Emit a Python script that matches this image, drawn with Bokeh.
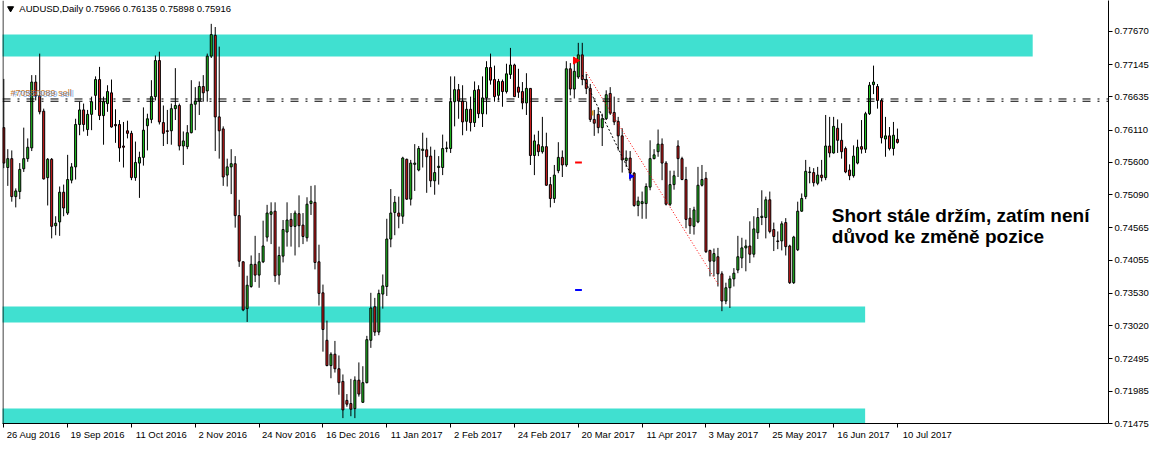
from bokeh.plotting import figure
from bokeh.models import Range1d, FixedTicker, Label, Span, ColumnDataSource, PrintfTickFormatter, CustomJSTickFormatter
from bokeh.embed import file_html
from bokeh.resources import INLINE
from bokeh.core.properties import value

# ---------------- data (AUDUSD daily) ----------------
opens = [0.7615,0.7552,0.7566,0.7506,0.7514,0.7550,0.7566,0.7583,0.7687,0.7665,
         0.7641,0.7536,0.7565,0.7460,0.7466,0.7513,0.7480,0.7532,0.7553,0.7620,
         0.7643,0.7612,0.7636,0.7666,0.7691,0.7634,0.7653,0.7670,0.7620,0.7620,
         0.7586,0.7610,0.7606,0.7536,0.7559,0.7568,0.7618,0.7628,0.7664,0.7721,
         0.7623,0.7610,0.7610,0.7645,0.7650,0.7586,0.7585,0.7607,0.7652,0.7657,
         0.7680,0.7673,0.7728,0.7761,0.7632,0.7613,0.7540,0.7553,0.7558,0.7476,
         0.7403,0.7329,0.7364,0.7399,0.7382,0.7403,0.7442,0.7478,0.7483,0.7382,
         0.7412,0.7450,0.7470,0.7459,0.7479,0.7461,0.7441,0.7495,0.7497,0.7403,
         0.7354,0.7279,0.7239,0.7257,0.7234,0.7214,0.7184,0.7179,0.7171,0.7216,
         0.7181,0.7212,0.7279,0.7332,0.7292,0.7352,0.7364,0.7439,0.7481,0.7480,
         0.7475,0.7565,0.7502,0.7557,0.7548,0.7579,0.7580,0.7570,0.7531,0.7552,
         0.7552,0.7582,0.7582,0.7656,0.7675,0.7657,0.7625,0.7644,0.7623,0.7675,
         0.7637,0.7662,0.7710,0.7691,0.7666,0.7688,0.7672,0.7699,0.7714,0.7679,
         0.7672,0.7654,0.7677,0.7571,0.7588,0.7577,0.7585,0.7525,0.7503,0.7547,
         0.7568,0.7556,0.7708,0.7676,0.7695,0.7730,0.7691,0.7677,0.7628,0.7636,
         0.7615,0.7629,0.7669,0.7639,0.7625,0.7602,0.7563,0.7567,0.7543,0.7492,
         0.7495,0.7495,0.7521,0.7566,0.7577,0.7589,0.7559,0.7494,0.7525,0.7586,
         0.7566,0.7533,0.7472,0.7459,0.7466,0.7524,0.7535,0.7421,0.7404,0.7411,
         0.7384,0.7341,0.7362,0.7376,0.7390,0.7409,0.7425,0.7428,0.7415,0.7449,
         0.7473,0.7473,0.7501,0.7454,0.7436,0.7436,0.7465,0.7428,0.7370,0.7422,
         0.7483,0.7506,0.7544,0.7544,0.7527,0.7540,0.7536,0.7586,0.7575,0.7614,
         0.7595,0.7582,0.7548,0.7539,0.7559,0.7585,0.7581,0.7637,0.7683,0.7680,
         0.7658,0.7597,0.7602,0.7582,0.75966]
highs = [0.7692,0.7581,0.7579,0.7519,0.7559,0.7615,0.7598,0.7698,0.7698,0.7732,
         0.7645,0.7567,0.7567,0.7475,0.7522,0.7525,0.7572,0.7559,0.7629,0.7656,
         0.7653,0.7643,0.7664,0.7696,0.7711,0.7664,0.7682,0.7691,0.7644,0.7627,
         0.7624,0.7626,0.7610,0.7593,0.7577,0.7647,0.7637,0.7690,0.7729,0.7735,
         0.7650,0.7643,0.7653,0.7709,0.7653,0.7609,0.7619,0.7690,0.7679,0.7688,
         0.7698,0.7732,0.7779,0.7774,0.7743,0.7617,0.7566,0.7581,0.7570,0.7501,
         0.7404,0.7381,0.7413,0.7444,0.7417,0.7468,0.7493,0.7497,0.7497,0.7427,
         0.7469,0.7497,0.7480,0.7484,0.7508,0.7480,0.7505,0.7523,0.7524,0.7430,
         0.7367,0.7310,0.7260,0.7278,0.7255,0.7225,0.7194,0.7218,0.7222,0.7244,
         0.7238,0.7286,0.7354,0.7346,0.7359,0.7383,0.7471,0.7518,0.7507,0.7506,
         0.7569,0.7566,0.7564,0.7589,0.7586,0.7607,0.7599,0.7585,0.7580,0.7570,
         0.7604,0.7593,0.7696,0.7696,0.7684,0.7682,0.7656,0.7664,0.7688,0.7682,
         0.7696,0.7720,0.7732,0.7713,0.7692,0.7691,0.7716,0.7741,0.7716,0.7708,
         0.7687,0.7701,0.7677,0.7604,0.7610,0.7632,0.7607,0.7537,0.7556,0.7592,
         0.7579,0.7720,0.7717,0.7724,0.7749,0.7749,0.7700,0.7684,0.7643,0.7647,
         0.7637,0.7674,0.7679,0.7664,0.7632,0.7614,0.7579,0.7578,0.7545,0.7506,
         0.7514,0.7527,0.7595,0.7581,0.7612,0.7598,0.7562,0.7547,0.7547,0.7595,
         0.7569,0.7553,0.7488,0.7490,0.7553,0.7556,0.7545,0.7422,0.7424,0.7425,
         0.7388,0.7370,0.7381,0.7393,0.7444,0.7441,0.7438,0.7467,0.7475,0.7488,
         0.7516,0.7506,0.7514,0.7465,0.7451,0.7467,0.7472,0.7430,0.7444,0.7498,
         0.7511,0.7564,0.7553,0.7551,0.7553,0.7564,0.7635,0.7632,0.7632,0.7628,
         0.7622,0.7585,0.7557,0.7587,0.7596,0.7627,0.7640,0.7687,0.7713,0.7684,
         0.7661,0.7632,0.7616,0.7624,0.76135]
lows = [0.7551,0.7523,0.7498,0.7489,0.7502,0.7545,0.7561,0.7578,0.7658,0.7636,
        0.7533,0.7492,0.7440,0.7445,0.7444,0.7475,0.7477,0.7527,0.7533,0.7603,
        0.7609,0.7602,0.7611,0.7643,0.7627,0.7588,0.7640,0.7615,0.7591,0.7561,
        0.7552,0.7598,0.7532,0.7531,0.7504,0.7555,0.7579,0.7622,0.7658,0.7620,
        0.7586,0.7589,0.7588,0.7627,0.7579,0.7556,0.7581,0.7606,0.7611,0.7635,
        0.7656,0.7656,0.7725,0.7578,0.7566,0.7523,0.7522,0.7510,0.7457,0.7395,
        0.7325,0.7308,0.7362,0.7371,0.7362,0.7401,0.7435,0.7431,0.7371,0.7367,
        0.7402,0.7427,0.7427,0.7413,0.7426,0.7431,0.7435,0.7477,0.7391,0.7334,
        0.7261,0.7238,0.7219,0.7228,0.7193,0.7156,0.7174,0.7159,0.7156,0.7190,
        0.7180,0.7211,0.7267,0.7286,0.7287,0.7329,0.7349,0.7426,0.7445,0.7456,
        0.7463,0.7501,0.7492,0.7515,0.7546,0.7552,0.7512,0.7521,0.7509,0.7525,
        0.7540,0.7576,0.7575,0.7617,0.7629,0.7603,0.7610,0.7609,0.7616,0.7630,
        0.7616,0.7636,0.7683,0.7656,0.7658,0.7648,0.7669,0.7692,0.7664,0.7662,
        0.7644,0.7635,0.7556,0.7540,0.7570,0.7574,0.7523,0.7489,0.7496,0.7543,
        0.7537,0.7553,0.7666,0.7661,0.7692,0.7682,0.7668,0.7624,0.7602,0.7606,
        0.7586,0.7627,0.7635,0.7619,0.7579,0.7544,0.7553,0.7531,0.7490,0.7475,
        0.7471,0.7471,0.7516,0.7565,0.7569,0.7532,0.7492,0.7491,0.7517,0.7537,
        0.7532,0.7456,0.7447,0.7446,0.7464,0.7522,0.7417,0.7380,0.7380,0.7364,
        0.7325,0.7336,0.7330,0.7364,0.7385,0.7393,0.7388,0.7401,0.7410,0.7439,
        0.7461,0.7440,0.7448,0.7420,0.7423,0.7421,0.7413,0.7368,0.7368,0.7420,
        0.7482,0.7502,0.7527,0.7522,0.7524,0.7530,0.7532,0.7568,0.7574,0.7575,
        0.7566,0.7543,0.7532,0.7536,0.7557,0.7574,0.7575,0.7635,0.7668,0.7645,
        0.7590,0.7569,0.7579,0.7571,0.75898]
closes = [0.7559,0.7566,0.7506,0.7515,0.7549,0.7566,0.7584,0.7687,0.7665,0.7640,
          0.7534,0.7565,0.7459,0.7464,0.7513,0.7488,0.7533,0.7553,0.7620,0.7643,
          0.7620,0.7636,0.7656,0.7691,0.7634,0.7656,0.7672,0.7616,0.7618,0.7583,
          0.7584,0.7606,0.7536,0.7560,0.7568,0.7611,0.7629,0.7664,0.7721,0.7624,
          0.7606,0.7609,0.7645,0.7650,0.7586,0.7594,0.7607,0.7652,0.7657,0.7680,
          0.7670,0.7728,0.7762,0.7632,0.7610,0.7537,0.7553,0.7558,0.7476,0.7404,
          0.7327,0.7366,0.7399,0.7382,0.7403,0.7428,0.7480,0.7482,0.7381,0.7413,
          0.7454,0.7469,0.7459,0.7480,0.7460,0.7443,0.7494,0.7499,0.7402,0.7353,
          0.7296,0.7239,0.7257,0.7234,0.7212,0.7169,0.7178,0.7170,0.7216,0.7194,
          0.7212,0.7280,0.7330,0.7292,0.7353,0.7365,0.7439,0.7480,0.7497,0.7475,
          0.7567,0.7502,0.7559,0.7559,0.7582,0.7581,0.7569,0.7531,0.7544,0.7554,
          0.7582,0.7583,0.7656,0.7675,0.7657,0.7624,0.7644,0.7623,0.7674,0.7637,
          0.7662,0.7710,0.7690,0.7664,0.7688,0.7672,0.7700,0.7714,0.7664,0.7671,
          0.7654,0.7677,0.7571,0.7594,0.7577,0.7585,0.7524,0.7503,0.7540,0.7568,
          0.7556,0.7708,0.7676,0.7704,0.7730,0.7691,0.7677,0.7628,0.7622,0.7615,
          0.7629,0.7667,0.7638,0.7624,0.7602,0.7564,0.7567,0.7543,0.7492,0.7499,
          0.7498,0.7522,0.7566,0.7572,0.7589,0.7559,0.7494,0.7525,0.7539,0.7566,
          0.7533,0.7470,0.7460,0.7485,0.7524,0.7533,0.7419,0.7404,0.7416,0.7384,
          0.7341,0.7362,0.7376,0.7385,0.7411,0.7425,0.7428,0.7415,0.7455,0.7473,
          0.7475,0.7501,0.7451,0.7443,0.7435,0.7463,0.7427,0.7370,0.7442,0.7483,
          0.7503,0.7546,0.7545,0.7528,0.7540,0.7536,0.7586,0.7575,0.7617,0.7595,
          0.7577,0.7545,0.7539,0.7570,0.7584,0.7581,0.7637,0.7682,0.7687,0.7658,
          0.7599,0.7602,0.7582,0.7603,0.75916]

date_tick_bars = [0, 16, 32, 48, 64, 80, 96, 112, 128, 144, 160, 176, 192, 208, 224]
date_tick_labels = ["26 Aug 2016", "19 Sep 2016", "11 Oct 2016", "2 Nov 2016", "24 Nov 2016",
                    "16 Dec 2016", "11 Jan 2017", "2 Feb 2017", "24 Feb 2017", "20 Mar 2017",
                    "11 Apr 2017", "3 May 2017", "25 May 2017", "16 Jun 2017", "10 Jul 2017"]
price_ticks = [0.77670, 0.77145, 0.76635, 0.76110, 0.75600, 0.75090, 0.74565,
               0.74055, 0.73530, 0.73020, 0.72495, 0.71985, 0.71475]

zone_tops = [0.77623, 0.73324, 0.71712]
zone_bottoms = [0.77276, 0.73072, 0.71380]
zone_right_bars = [257.9, 215.9, 215.9]

order_levels = [0.76603, 0.76567]
trend_red_bars = [145.9, 179.1]
trend_red_prices = [0.7703, 0.7367]
trade_black_bars = [145.0, 157.5]
trade_black_prices = [0.7698, 0.7537]
sl_price = 0.7560
tp_price = 0.73583

header_text = "AUDUSD,Daily  0.75966 0.76135 0.75898 0.75916"
note_lines = ["Short stále držím, zatím není", "důvod ke změně pozice"]
note_prices = [0.74754, 0.74423]

# ---------------- figure ----------------
FONT = "Liberation Sans"
p = figure(width=1151, height=442, output_backend="svg", toolbar_location=None,
           x_range=Range1d(-0.325, 276.9), y_range=Range1d(0.71475, 0.78159),
           y_axis_location="right", min_border_left=2, min_border_top=0,
           min_border_right=40, min_border_bottom=13)
p.background_fill_color = "white"
p.border_fill_color = "white"
p.outline_line_color = None
p.xgrid.visible = False
p.ygrid.visible = False

# zones
p.quad(left=[-2, -2, -2], right=zone_right_bars, top=zone_tops, bottom=zone_bottoms,
       fill_color="#40E0D0", line_color=None)

# order lines (dash-dot)
for lv in order_levels:
    p.add_layout(Span(location=lv, dimension="width", line_color="black",
                      line_width=1, line_dash="8 7 2 7"))

# left border
p.add_layout(Span(location=-0.2, dimension="height", line_color="black", line_width=1))

# candles
n = len(opens)
idx = list(range(n))
up = [c >= o for o, c in zip(opens, closes)]
src = ColumnDataSource(dict(
    x=idx, o=opens, h=highs, l=lows, c=closes,
    top=[max(o, c) for o, c in zip(opens, closes)],
    bot=[min(o, c) for o, c in zip(opens, closes)],
    col=["#22c822" if u else "#dc1e1e" for u in up]))
p.segment(x0="x", y0="h", x1="x", y1="l", source=src, line_color="black", line_width=1)
p.vbar(x="x", width=0.5, top="top", bottom="bot", source=src,
       fill_color="col", line_color="black", line_width=1)

# trade drawings
p.line(trend_red_bars, trend_red_prices, line_color="red", line_width=1, line_dash="1 2")
p.line(trade_black_bars, trade_black_prices, line_color="black", line_width=1, line_dash="2 2")
p.segment(x0=[143.2, 143.2], y0=[sl_price, tp_price], x1=[144.9, 144.9], y1=[sl_price, tp_price],
          line_color=["red", "blue"], line_width=2)
p.scatter([143.3], [0.7721], marker="triangle", angle=-1.5708, size=7, color="red")
p.scatter([157.2], [0.7538], marker="triangle", angle=-1.5708, size=5, color="blue")
p.rect([147.6], [0.7638], width=0.4, height=0.0008, fill_color="#e0a020", line_color=None)

# order labels
p.text(x=[1.7], y=[0.76693], text=["#70550089 sell"], text_font=value(FONT),
       text_font_size="9px", text_color="#c8782a", text_baseline="middle")
p.text(x=[2.2], y=[0.76685], text=["#70553089 sell"], text_font=value(FONT),
       text_font_size="9px", text_color="#2e78d0", text_alpha=0.6, text_baseline="middle")

# header
p.scatter([1.7], [0.78033], marker="inverted_triangle", size=6, color="black")
p.text(x=[3.9], y=[0.78033], text=[header_text],
       text_font=value(FONT), text_font_size="9.5px", text_color="black", text_baseline="middle")

# annotation
for t, yv in zip(note_lines, note_prices):
    p.add_layout(Label(x=207.55, y=yv, text=t,
                       text_font=FONT, text_font_size="19px", text_font_style="bold",
                       text_color="black", text_baseline="alphabetic"))

# right axis
ya = p.yaxis[0]
ya.ticker = FixedTicker(ticks=price_ticks)
ya.formatter = PrintfTickFormatter(format="%.5f")
ya.major_tick_out = 4
ya.major_tick_in = 0
ya.minor_tick_line_color = None
ya.major_label_standoff = 2
ya.major_label_text_font = FONT
ya.major_label_text_font_size = "9.5px"
ya.major_label_text_color = "black"
ya.axis_line_color = "black"
ya.major_tick_line_color = "black"

# bottom axis: tick marks at the dates (minor ticks), labels left-aligned after them
label_centers = [b + (3 + 0.5 * 4.9 * len(t)) / 4.0 for b, t in zip(date_tick_bars, date_tick_labels)]
xa = p.xaxis[0]
xa.ticker = FixedTicker(ticks=label_centers, minor_ticks=date_tick_bars)
xa.formatter = CustomJSTickFormatter(args=dict(labels=date_tick_labels),
                                     code="return labels[index];")
xa.major_tick_out = 0
xa.major_tick_in = 0
xa.major_tick_line_color = None
xa.minor_tick_out = 4
xa.minor_tick_in = 0
xa.minor_tick_line_color = "black"
xa.major_label_standoff = 1
xa.major_label_text_font = FONT
xa.major_label_text_font_size = "9.5px"
xa.major_label_text_color = "black"
xa.axis_line_color = "black"

open("out.html", "w").write(file_html(p, INLINE))
